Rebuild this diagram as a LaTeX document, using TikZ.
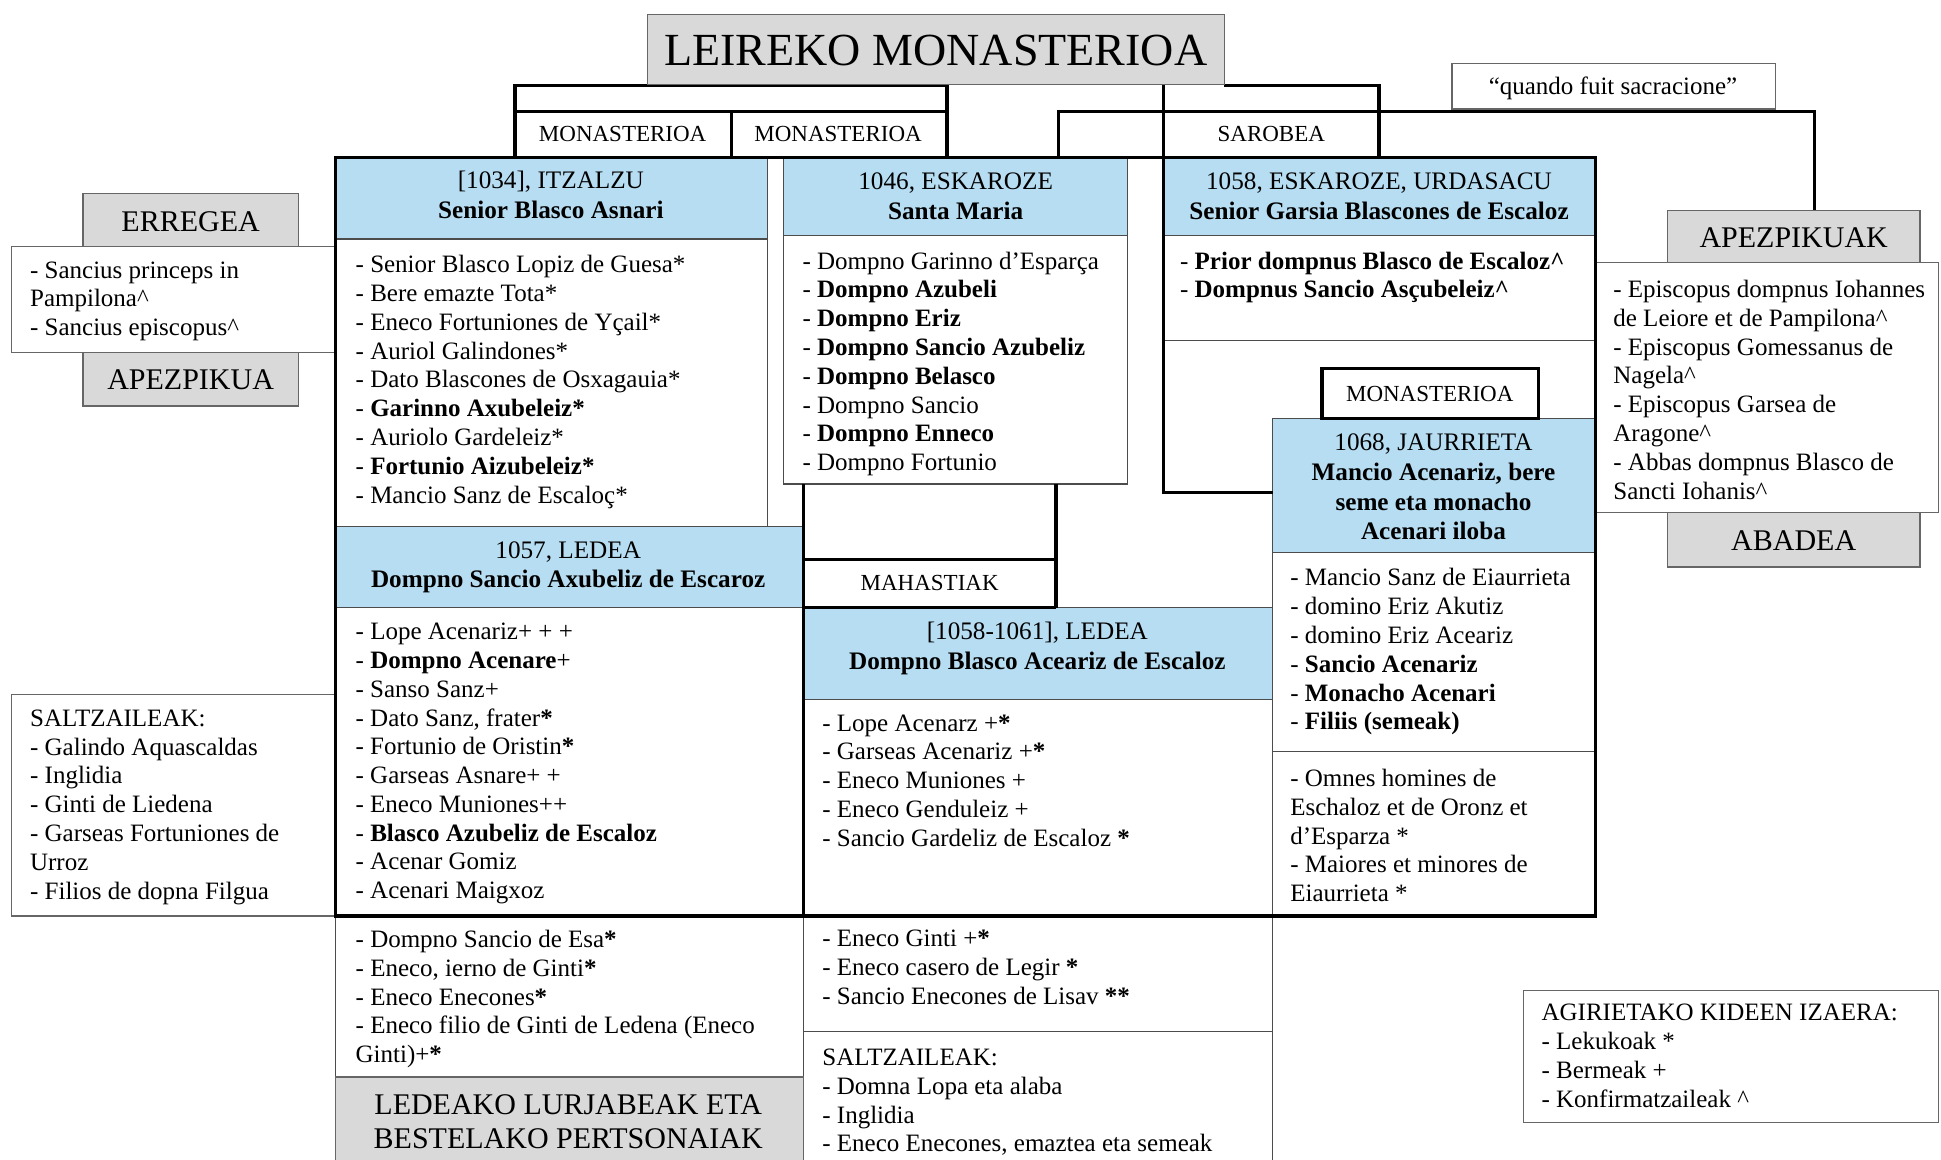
\documentclass[tikz,border=0pt]{standalone}
\usepackage{fontspec}
\setmainfont{Liberation Serif}
\definecolor{headblue}{RGB}{183,221,242}
\definecolor{boxgray}{RGB}{217,217,217}
\newcommand{\bodyfont}{\fontsize{12.5}{14.4}\selectfont}
\newcommand{\headfont}{\fontsize{12.6}{14.9}\selectfont}
\newcommand{\tagfont}{\fontsize{11.5}{13}\selectfont}
\newcommand{\bigfont}{\fontsize{15}{17.3}\selectfont}
\newcommand{\titlefont}{\fontsize{23}{27}\selectfont}
\newcommand{\konf}{\textasciicircum}
\tikzset{
  thk/.style={line width=1.6pt},
  thn/.style={line width=0.6pt, draw=black!70},
  graybox/.style={fill=boxgray, draw=black!60, line width=0.6pt},
  whitebox/.style={fill=white, draw=black!60, line width=0.6pt},
  list/.style={anchor=north west, inner sep=0pt, align=left, font=\bodyfont, execute at begin node=\strut},
  head/.style={anchor=north, inner sep=0pt, align=center, font=\headfont, execute at begin node=\strut},
  tag/.style={inner sep=0pt, font=\tagfont},
  biglbl/.style={inner sep=0pt, align=center, font=\bigfont}
}

\begin{document}
\begin{tikzpicture}[x=0.619pt, y=-0.619pt]
  \useasboundingbox (0,0) rectangle (1568,937);
  % coloured heads
  \fill[headblue] (271,127) rectangle (620,193);
  \fill[headblue] (633,127) rectangle (911,190);
  \fill[headblue] (940,127) rectangle (1289,190);
  \fill[headblue] (271,425) rectangle (649,491);
  \fill[headblue] (649,491) rectangle (1028,565);
  \fill[headblue] (1028,338) rectangle (1289,446);

  % thin cell lines
  \draw[thn] (271,127) rectangle (620,425) (271,193) -- (620,193);
  \draw[thn] (633,127) rectangle (911,391) (633,190) -- (911,190);
  \draw[thn] (940,190) -- (1289,190) (940,275) -- (1289,275);
  \draw[thn] (1028,338) rectangle (1289,740) (1028,446) -- (1289,446) (1028,607) -- (1289,607);
  \draw[thn] (271,425) -- (649,425) (271,491) -- (649,491);
  \draw[thn] (853,491) -- (1028,491) (649,565) -- (1028,565);
  \draw[thn] (271,740) -- (271,940) (649,740) -- (649,940) (1028,740) -- (1028,940);
  \draw[thn] (649,833) -- (1028,833);

  % side boxes
  \path[graybox] (67,156) rectangle (241,199);
  \path[graybox] (67,285) rectangle (241,328);
  \path[whitebox] (9,199) rectangle (271,285);
  \path[whitebox] (9,561) rectangle (271,740);
  \path[graybox] (1347,170) rectangle (1551,212);
  \path[graybox] (1347,414) rectangle (1551,458);
  \path[whitebox] (1289,212) rectangle (1566,414);
  \path[whitebox] (1173,51) rectangle (1434,88);
  \path[whitebox] (1231,800) rectangle (1566,907);
  \path[graybox] (271,870) rectangle (649,945);

  % thick frame and brackets
  \draw[thk] (416,127) -- (416,69) -- (765,69) -- (765,127) (416,90) -- (765,90) (591,90) -- (591,127);
  \draw[thk] (989,69) -- (1114,69) -- (1114,127);
  \draw[thk] (940,69) -- (940,398) -- (1028,398);
  \draw[thk] (855,127) -- (855,90) -- (1466,90) -- (1466,170);
  \draw[thk] (271,127) rectangle (1289,740);
  \draw[thk] (649,391) -- (649,740) (853,391) -- (853,491);
  \draw[thk] (649,452) -- (853,452) (649,491) -- (853,491);
  \draw[thk] (1068,298) rectangle (1243,338);
  \path[graybox] (523,12) rectangle (989,68);

  % labels
  \node[font=\titlefont, inner sep=0pt] (title) at (756,41) {LEIREKO MONASTERIOA};
  \node[tag] (mon1) at (503,108) {MONASTERIOA};
  \node[tag] (mon2) at (677,108) {MONASTERIOA};
  \node[tag] (sarobea) at (1027,108) {SAROBEA};
  \node[tag] (mon3) at (1155,318) {MONASTERIOA};
  \node[tag] (mahastiak) at (751,471) {MAHASTIAK};
  \node[font=\bodyfont, inner sep=0pt] (quando) at (1303,71) {“quando fuit sacracione”};
  \node[biglbl] (erregea) at (154,179) {ERREGEA};
  \node[biglbl] (apezpikua) at (154,307) {APEZPIKUA};
  \node[biglbl] (apezpikuak) at (1449,192) {APEZPIKUAK};
  \node[biglbl] (abadea) at (1449,437) {ABADEA};
  \node[biglbl] (ledeako) at (459,906) {LEDEAKO LURJABEAK ETA\\BESTELAKO PERTSONAIAK};

  % heads
  \node[head] (itzalzu) at (445,138) {[1034], ITZALZU\\\textbf{Senior Blasco Asnari}};
  \node[head] (eskaroze) at (772,139) {1046, ESKAROZE\\\textbf{Santa Maria}};
  \node[head] (urdasacu) at (1114,139) {1058, ESKAROZE, URDASACU\\\textbf{Senior Garsia Blascones de Escaloz}};
  \node[head] (ledea) at (459,437) {1057, LEDEA\\\textbf{Dompno Sancio Axubeliz de Escaroz}};
  \node[head] (ledeb) at (838,502) {[1058-1061], LEDEA\\\textbf{Dompno Blasco Aceariz de Escaloz}};
  \node[head] (jaurrieta) at (1158,350) {1068, JAURRIETA\\\textbf{Mancio Acenariz, bere}\\\textbf{seme eta monacho}\\\textbf{Acenari iloba}};

  % lists
  \node[list] (erregeaL) at (24,211) {- Sancius princeps in\\Pampilona\konf\\- Sancius episcopus\konf};
  \node[list] (itzalzuL) at (287,206) {- Senior Blasco Lopiz de Guesa*\\- Bere emazte Tota*\\- Eneco Fortuniones de Yçail*\\- Auriol Galindones*\\- Dato Blascones de Osxagauia*\\- \textbf{Garinno Axubeleiz*}\\- Auriolo Gardeleiz*\\- \textbf{Fortunio Aizubeleiz*}\\- Mancio Sanz de Escaloç*};
  \node[list] (eskarozeL) at (648,203) {- Dompno Garinno d’Esparça\\- \textbf{Dompno Azubeli}\\- \textbf{Dompno Eriz}\\- \textbf{Dompno Sancio Azubeliz}\\- \textbf{Dompno Belasco}\\- Dompno Sancio\\- \textbf{Dompno Enneco}\\- Dompno Fortunio};
  \node[list] (urdasacuL) at (953,203) {- \textbf{Prior dompnus Blasco de Escaloz\konf}\\- \textbf{Dompnus Sancio Asçubeleiz\konf}};
  \node[list] (jaurrietaL) at (1042,459) {- Mancio Sanz de Eiaurrieta\\- domino Eriz Akutiz\\- domino Eriz Aceariz\\- \textbf{Sancio Acenariz}\\- \textbf{Monacho Acenari}\\- \textbf{Filiis (semeak)}};
  \node[list] (jaurrietaM) at (1042,621) {- Omnes homines de\\Eschaloz et de Oronz et\\d’Esparza *\\- Maiores et minores de\\Eiaurrieta *};
  \node[list] (ledeaL) at (287,503) {- Lope Acenariz+ + +\\- \textbf{Dompno Acenare}+\\- Sanso Sanz+\\- Dato Sanz, frater\textbf{*}\\- Fortunio de Oristin\textbf{*}\\- Garseas Asnare+ +\\- Eneco Muniones++\\- \textbf{Blasco Azubeliz de Escaloz}\\- Acenar Gomiz\\- Acenari Maigxoz};
  \node[list] (ledebL) at (664,577) {- Lope Acenarz +\textbf{*}\\- Garseas Acenariz +\textbf{*}\\- Eneco Muniones +\\- Eneco Genduleiz +\\- Sancio Gardeliz de Escaloz \textbf{*}};
  \node[list] (saltzL) at (24,573) {SALTZAILEAK:\\- Galindo Aquascaldas\\- Inglidia\\- Ginti de Liedena\\- Garseas Fortuniones de\\Urroz\\- Filios de dopna Filgua};
  \node[list] (lurjabeL) at (287,751) {- Dompno Sancio de Esa\textbf{*}\\- Eneco, ierno de Ginti\textbf{*}\\- Eneco Enecones\textbf{*}\\- Eneco filio de Ginti de Ledena (Eneco\\Ginti)+\textbf{*}};
  \node[list] (mahastiL) at (664,751) {- Eneco Ginti +\textbf{*}\\- Eneco casero de Legir \textbf{*}\\- Sancio Enecones de Lisav \textbf{**}};
  \node[list] (saltzM) at (664,847) {SALTZAILEAK:\\- Domna Lopa eta alaba\\- Inglidia\\- Eneco Enecones, emaztea eta semeak};
  \node[list] (apezpikuakL) at (1303,226) {- Episcopus dompnus Iohannes\\de Leiore et de Pampilona\konf\\- Episcopus Gomessanus de\\Nagela\konf\\- Episcopus Garsea de\\Aragone\konf\\- Abbas dompnus Blasco de\\Sancti Iohanis\konf};
  \node[list] (izaera) at (1245,811) {AGIRIETAKO KIDEEN IZAERA:\\- Lekukoak *\\- Bermeak +\\- Konfirmatzaileak \konf};
\end{tikzpicture}
\end{document}
